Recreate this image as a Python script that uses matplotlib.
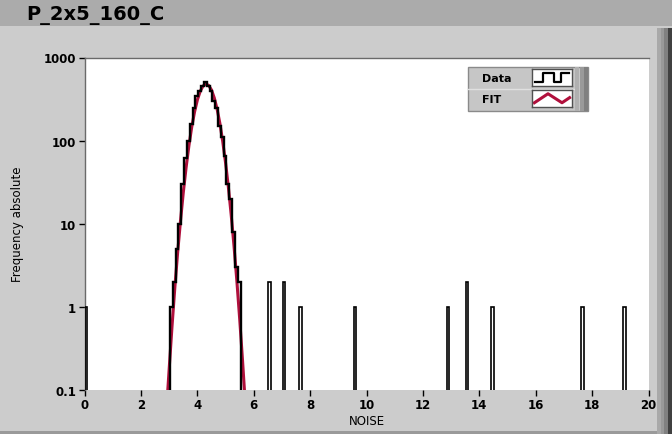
import numpy as np
import matplotlib
matplotlib.use("Agg")
import matplotlib.pyplot as plt
from matplotlib.patches import Rectangle

# main peak histogram: bins 0.1 wide, first bin starts at 3.03
peak_start = 3.03
bin_width = 0.1
peak_counts = [1, 2, 5, 10, 30, 62, 100, 160, 250, 340, 400, 460, 510,
               460, 390, 300, 250, 150, 110, 65, 30, 20, 8, 3, 2]

# isolated bins far from the peak (left edge of bin, count)
outlier_left = [0.0, 6.52, 7.02, 7.62, 9.54, 12.84, 13.51, 14.43, 17.62, 19.11]
outlier_counts = [1, 2, 2, 1, 1, 1, 2, 1, 1, 1]

# fit curve
fit_x = [2.95, 3.0, 3.1, 3.2, 3.3, 3.4, 3.5, 3.6, 3.7, 3.8, 3.9, 4.0, 4.1, 4.2,
         4.3, 4.4, 4.5, 4.6, 4.7, 4.8, 4.9, 5.0, 5.1, 5.2, 5.3, 5.4, 5.5, 5.6, 5.7]
fit_y = [0.099, 0.18, 0.58, 1.7, 4.5, 10.7, 23.7, 47.5, 87, 146, 222, 309, 392, 454,
         480, 462, 407, 326, 239, 160, 97, 54, 27.4, 12.7, 5.35, 2.06, 0.72, 0.23, 0.068]

x_ticks = [0, 2, 4, 6, 8, 10, 12, 14, 16, 18, 20]
y_ticks = [0.1, 1, 10, 100, 1000]
y_tick_labels = ["0.1", "1", "10", "100", "1000"]

W, H = 672, 435
PANEL = "#cccccc"
FIT_RED = "#b0103c"


def fx(x):
    return x / W


def fy(y):
    return 1 - y / H


fig = plt.figure(figsize=(W / 100, H / 100), dpi=100, facecolor=PANEL)

# title band and window borders
fig.patches.append(Rectangle((0, fy(27)), 1, 27 / H, transform=fig.transFigure,
                             facecolor="#ababab", edgecolor="none", zorder=0))
for x0, c in [(657, "#a9a9a9"), (661, "#999999"), (664, "#808080"), (668, "#404040")]:
    fig.patches.append(Rectangle((fx(x0), 0), fx(4), fy(29), transform=fig.transFigure,
                                 facecolor=c, edgecolor="none", zorder=0))
fig.patches.append(Rectangle((0, 0), fx(657), 3 / H, transform=fig.transFigure,
                             facecolor="#9a9a9a", edgecolor="none", zorder=0))
fig.text(fx(26), fy(20), "P_2x5_160_C", fontsize=14, fontweight="bold",
         va="baseline", ha="left", color="black")

# plot area
ax = fig.add_axes([fx(84.6), fy(391), fx(648.5 - 84.6), (391 - 58.5) / H])
ax.set_facecolor("white")

ax.plot(fit_x, fit_y, color=FIT_RED, lw=2.2, zorder=2, solid_capstyle="butt")

edges = peak_start + bin_width * np.arange(len(peak_counts) + 1)
ax.stairs(peak_counts, edges, baseline=1e-3, color="black", lw=1.7, zorder=3)
for left, c in zip(outlier_left, outlier_counts):
    ax.stairs([c], [left, left + bin_width], baseline=1e-3, color="black", lw=1.2, zorder=3)

ax.set_yscale("log")
ax.set_xlim(0, 20)
ax.set_ylim(0.1, 1000)
ax.set_xticks(x_ticks)
ax.set_xticklabels([str(t) for t in x_ticks])
ax.set_yticks(y_ticks)
ax.set_yticklabels(y_tick_labels)
ax.minorticks_off()
ax.tick_params(direction="out", length=4, width=1, color="black", pad=2,
               labelsize=8.5, labelcolor="black")
for lab in ax.get_xticklabels() + ax.get_yticklabels():
    lab.set_fontweight("bold")
for s in ["right", "bottom"]:
    ax.spines[s].set_visible(False)
for s in ["top", "left"]:
    ax.spines[s].set_color("#6a6a6a")
    ax.spines[s].set_linewidth(1)

ax.set_xlabel("NOISE", fontsize=8.5, labelpad=2)
ax.set_ylabel("Frequency absolute", fontsize=8.5, labelpad=14)

# legend panel, drawn the way the instrument panel shows it
fig.patches.append(Rectangle((fx(468), fy(112)), fx(120), 44 / H, transform=fig.transFigure,
                             facecolor="#c6c6c6", edgecolor="#8a8a8a", lw=1, zorder=5))
for x0, c in [(575, "#b0b0b0"), (580, "#9a9a9a"), (584, "#808080")]:
    fig.patches.append(Rectangle((fx(x0), fy(112)), fx(4), 44 / H, transform=fig.transFigure,
                                 facecolor=c, edgecolor="none", zorder=6))
fig.lines.append(plt.Line2D([fx(468), fx(575)], [fy(90), fy(90)], transform=fig.transFigure,
                            color="#e0e0e0", lw=1, zorder=6))
fig.text(fx(482), fy(79), "Data", fontsize=8, fontweight="bold", va="center", zorder=7)
fig.text(fx(482), fy(100), "FIT", fontsize=8, fontweight="bold", va="center", zorder=7)

icon_data = fig.add_axes([fx(532), fy(87), fx(40), 17 / H], zorder=8)
icon_data.plot([0.08, 0.28, 0.28, 0.55, 0.55, 0.72, 0.72, 0.92],
               [0.22, 0.22, 0.78, 0.78, 0.22, 0.22, 0.78, 0.78], color="black", lw=1.6)
icon_fit = fig.add_axes([fx(532), fy(108), fx(40), 17 / H], zorder=8)
icon_fit.plot([0.06, 0.4, 0.75, 0.94], [0.25, 0.78, 0.25, 0.55], color=FIT_RED, lw=2.2)
for a in (icon_data, icon_fit):
    a.set_xlim(0, 1)
    a.set_ylim(0, 1)
    a.set_xticks([])
    a.set_yticks([])
    a.set_facecolor("white")
    for s in a.spines.values():
        s.set_color("#505050")
        s.set_linewidth(1)

fig.savefig("out.png", dpi=100, facecolor=PANEL)
